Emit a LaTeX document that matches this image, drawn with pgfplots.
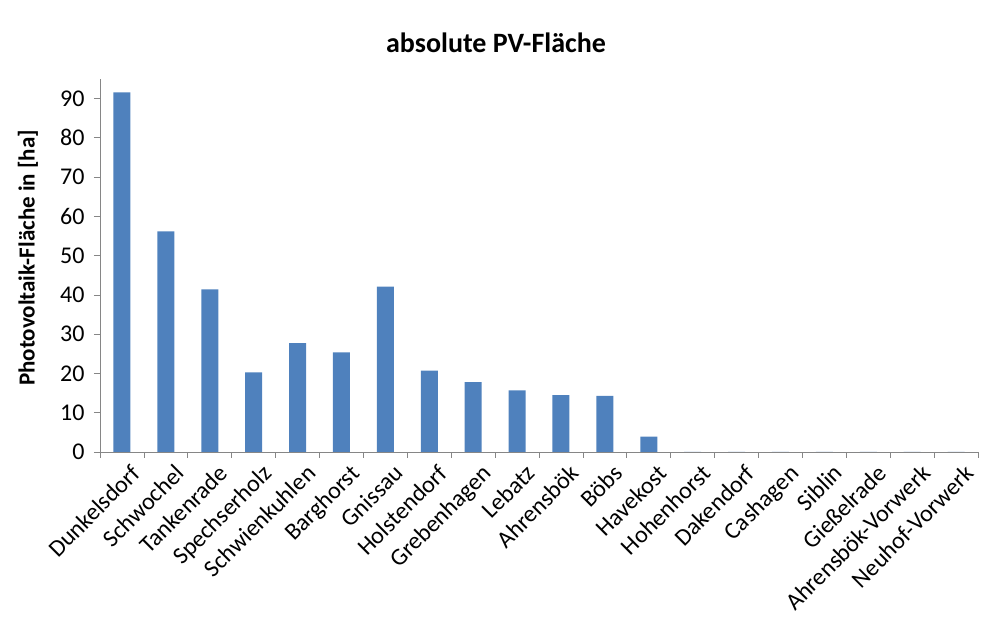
\documentclass[border=0pt]{standalone}
\usepackage{fontspec}
\setmainfont{Carlito}
\usepackage{pgfplots}
\pgfplotsset{compat=1.18}
\definecolor{barblue}{HTML}{4F81BD}
\definecolor{axisgray}{HTML}{868686}
\begin{document}
\begin{tikzpicture}
\useasboundingbox (0bp,0bp) rectangle (981bp,641bp);
\node[font=\fontsize{28bp}{32bp}\selectfont\bfseries] at (496bp,598bp) {absolute PV-Fläche};
\node[font=\fontsize{23bp}{27bp}\selectfont\bfseries, rotate=90] at (28bp,383bp) {Photovoltaik-Fläche in [ha]};
\begin{axis}[
    at={(100bp,189bp)}, anchor=south west,
    scale only axis,
    width=878bp, height=373bp,
    xmin=-0.5, xmax=19.5,
    ymin=0, ymax=95,
    axis x line=bottom, axis y line=left,
    axis line style={draw=axisgray, line width=0.8pt, -},
    ytick={0,10,...,90},
    xtick={0,...,19},
    xticklabels={Dunkelsdorf,Schwochel,Tankenrade,Spechserholz,Schwienkuhlen,Barghorst,Gnissau,Holstendorf,Grebenhagen,Lebatz,Ahrensbök,Böbs,Havekost,Hohenhorst,Dakendorf,Cashagen,Siblin,Gießelrade,Ahrensbök-Vorwerk,Neuhof-Vorwerk},
    xtick style={draw=none},
    minor xtick={-0.5,0.5,...,19.5},
    minor x tick style={draw=axisgray, line width=0.8pt},
    ytick style={draw=axisgray, line width=0.8pt},
    tick align=outside,
    major tick length=6bp, minor tick length=6bp,
    /pgf/number format/assume math mode=true,
    tick label style={font=\fontsize{24bp}{28bp}\selectfont, text=black},
    yticklabel style={xshift=-6bp},
    xticklabel style={rotate=45, anchor=north east, inner sep=2bp, xshift=4bp, yshift=-7bp},
    ybar, bar width=17bp, bar shift=0pt,
]
\addplot[fill=barblue, draw=none] coordinates {
    (0,91.6) (1,56.2) (2,41.4) (3,20.3) (4,27.7) (5,25.4) (6,42.1)
    (7,20.7) (8,17.8) (9,15.7) (10,14.5) (11,14.3) (12,3.9)
    (13,0) (14,0) (15,0) (16,0) (17,0) (18,0) (19,0)
};
\end{axis}
\end{tikzpicture}
\end{document}
